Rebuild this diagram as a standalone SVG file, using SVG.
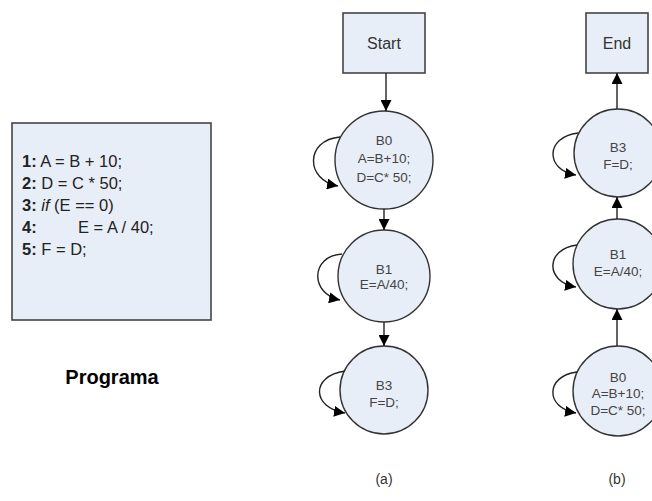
<svg xmlns="http://www.w3.org/2000/svg" width="652" height="501" viewBox="0 0 652 501">
<defs>
<marker id="ah" viewBox="0 0 10 10" refX="10" refY="5" markerWidth="11" markerHeight="11" markerUnits="userSpaceOnUse" orient="auto">
<path d="M0,0 L10,5 L0,10 z" fill="#000"/>
</marker>
</defs>
<style>
.box{fill:#e8eef8;stroke:#444;stroke-width:1.6}
.node{fill:#e8eef8;stroke:#333;stroke-width:1.4}
.t{font-family:"Liberation Sans",Arial,sans-serif;fill:#444;font-size:13.5px;text-anchor:middle}
.lbl{font-family:"Liberation Sans",Arial,sans-serif;fill:#333;font-size:16px;text-anchor:middle}
.cap{font-family:"Liberation Sans",Arial,sans-serif;fill:#333;font-size:14px;text-anchor:middle}
.code{font-family:"Liberation Sans",Arial,sans-serif;fill:#222;font-size:16.5px}
.edge{fill:none;stroke:#222;stroke-width:1.4;marker-end:url(#ah)}
</style>
<g id="program">
<rect class="box" x="12" y="123" width="199" height="197"/>
<text class="code" x="22" y="167"><tspan font-weight="bold">1:</tspan> A = B + 10;</text>
<text class="code" x="22" y="189"><tspan font-weight="bold">2:</tspan> D = C * 50;</text>
<text class="code" x="22" y="211"><tspan font-weight="bold">3:</tspan> <tspan font-style="italic">if</tspan> (E == 0)</text>
<text class="code" x="22" y="233"><tspan font-weight="bold">4:</tspan></text>
<text class="code" x="78" y="233">E = A / 40;</text>
<text class="code" x="22" y="255"><tspan font-weight="bold">5:</tspan> F = D;</text>
</g>
<text x="112" y="384" font-family="Liberation Sans, Arial, sans-serif" font-size="20" font-weight="bold" text-anchor="middle" fill="#000">Programa</text>

<g id="a-start"><rect class="box" x="343" y="13" width="82" height="60"/><text class="lbl" x="384" y="49">Start</text></g>
<g id="a-b0"><circle class="node" cx="384" cy="160" r="49"/><text class="t" x="384" y="145">B0</text><text class="t" x="384" y="163">A=B+10;</text><text class="t" x="384" y="182">D=C* 50;</text></g>
<g id="a-b1"><circle class="node" cx="384" cy="276" r="46"/><text class="t" x="384" y="274">B1</text><text class="t" x="384" y="289">E=A/40;</text></g>
<g id="a-b3"><circle class="node" cx="384" cy="390" r="44"/><text class="t" x="384" y="390">B3</text><text class="t" x="384" y="407">F=D;</text></g>
<text class="cap" x="384" y="484">(a)</text>

<g id="b-end"><rect class="box" x="586" y="13" width="62" height="60"/><text class="lbl" x="617" y="49">End</text></g>
<g id="b-b3"><circle class="node" cx="618" cy="153" r="44"/><text class="t" x="618" y="152">B3</text><text class="t" x="618" y="169">F=D;</text></g>
<g id="b-b1"><circle class="node" cx="618" cy="264" r="45"/><text class="t" x="618" y="259">B1</text><text class="t" x="618" y="276">E=A/40;</text></g>
<g id="b-b0"><circle class="node" cx="618" cy="391" r="45"/><text class="t" x="618" y="382">B0</text><text class="t" x="618" y="398">A=B+10;</text><text class="t" x="618" y="415">D=C* 50;</text></g>
<text class="cap" x="617" y="484">(b)</text>

<g id="connectors">
<path class="edge" d="M386,73 L386,111"/>
<path class="edge" d="M384,209 L384,230"/>
<path class="edge" d="M384,322 L384,346"/>
<path class="edge" d="M340,137 C305,140 305,180 338,186"/>
<path class="edge" d="M342,254 C310,256 310,294 340,300"/>
<path class="edge" d="M345,371 C310,376 312,408 345,413"/>
<path class="edge" d="M617,109 L617,73"/>
<path class="edge" d="M617,219 L617,197"/>
<path class="edge" d="M617,346 L617,309"/>
<path class="edge" d="M578,133 C545,137 545,170 576,175"/>
<path class="edge" d="M577,245 C545,249 545,282 576,287"/>
<path class="edge" d="M577,372 C545,376 545,408 576,413"/>
</g>
</svg>
